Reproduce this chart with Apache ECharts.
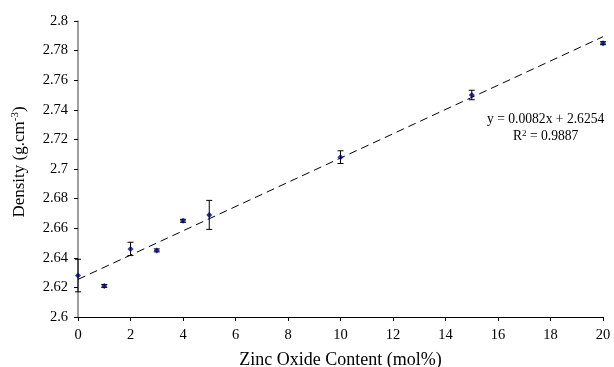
<!DOCTYPE html>
<html>
<head>
<meta charset="utf-8">
<script src="https://cdn.jsdelivr.net/npm/echarts@6/dist/echarts.min.js"></script>
<style>
  html, body { margin: 0; padding: 0; background: #fff; }
  #chart { width: 614px; height: 367px; }
</style>
</head>
<body>
<div id="chart"></div>
<script>
// ZnO content (mol%) vs density
const znoContent = [0, 1, 2, 3, 4, 5, 10, 15, 20]
const density = [2.628, 2.621, 2.646, 2.645, 2.665, 2.669, 2.708, 2.750, 2.785]
const densityErr = [0.011, 0.001, 0.0045, 0.001, 0.001, 0.0098, 0.0043, 0.0032, 0.001]

// linear fit endpoints (dashed trendline)
const trendX = [0, 20]
const trendY = [2.6254, 2.7894]

const xTicks = [0, 2, 4, 6, 8, 10, 12, 14, 16, 18, 20]
const yTicks = [2.6, 2.62, 2.64, 2.66, 2.68, 2.7, 2.72, 2.74, 2.76, 2.78, 2.8]

const serif = '"Liberation Serif", "DejaVu Serif", serif'
const chart = echarts.init(document.getElementById('chart'))

const points = znoContent.map((x, i) => [x, density[i]])
const errData = znoContent.map((x, i) => [x, density[i] - densityErr[i], density[i] + densityErr[i]])
const trendData = trendX.map((x, i) => [x, trendY[i]])

const option = {
  animation: false,
  backgroundColor: '#fff',
  grid: { left: 78, right: 11, top: 21, bottom: 50, containLabel: false, outerBoundsMode: 'none' },
  xAxis: {
    type: 'value',
    min: xTicks[0],
    max: xTicks[xTicks.length - 1],
    interval: 2,
    name: 'Zinc Oxide Content (mol%)',
    nameLocation: 'middle',
    nameGap: 34,
    nameTextStyle: { fontFamily: serif, fontSize: 18, color: '#000' },
    axisLine: { lineStyle: { color: '#000', width: 1 } },
    axisTick: { show: true, length: 4, lineStyle: { color: '#000' } },
    axisLabel: { fontFamily: serif, fontSize: 14.5, color: '#000', margin: 11 },
    splitLine: { show: false }
  },
  yAxis: {
    type: 'value',
    min: yTicks[0],
    max: yTicks[yTicks.length - 1],
    interval: 0.02,
    name: '{n|Density (g.cm}{s|-3}{n|)}',
    nameLocation: 'middle',
    nameRotate: 90,
    nameGap: 49,
    nameTextStyle: {
      padding: [0, 0, 0, 14],
      rich: {
        n: { fontFamily: serif, fontSize: 17, color: '#000' },
        s: { fontFamily: serif, fontSize: 11, color: '#000', verticalAlign: 'top', padding: [0, 0, 8, 0] }
      }
    },
    axisLine: { show: true, lineStyle: { color: '#808080', width: 1.5 } },
    axisTick: { show: true, length: 4, lineStyle: { color: '#000' } },
    axisLabel: {
      fontFamily: serif, fontSize: 14.5, color: '#000', margin: 10,
      formatter: v => String(parseFloat(v.toFixed(2)))
    },
    splitLine: { show: false }
  },
  series: [
    {
      type: 'line',
      data: trendData,
      symbol: 'none',
      silent: true,
      lineStyle: { color: '#000', width: 1, type: [8, 5] },
      z: 2
    },
    {
      type: 'custom',
      data: errData,
      z: 3,
      renderItem: (params, api) => {
        const x = api.value(0)
        const lo = api.coord([x, api.value(1)])
        const hi = api.coord([x, api.value(2)])
        const w = 3
        const style = { stroke: '#000', lineWidth: 1 }
        return {
          type: 'group',
          children: [
            { type: 'line', shape: { x1: lo[0], y1: lo[1], x2: hi[0], y2: hi[1] }, style },
            { type: 'line', shape: { x1: lo[0] - w, y1: lo[1], x2: lo[0] + w, y2: lo[1] }, style },
            { type: 'line', shape: { x1: hi[0] - w, y1: hi[1], x2: hi[0] + w, y2: hi[1] }, style }
          ]
        }
      }
    },
    {
      type: 'scatter',
      data: points,
      symbol: 'diamond',
      symbolSize: 6,
      itemStyle: { color: '#000080' },
      z: 4
    }
  ],
  graphic: [
    {
      type: 'text',
      left: 487,
      top: 112,
      style: {
        text: 'y = 0.0082x + 2.6254',
        fontFamily: serif, fontSize: 13.6, fill: '#000'
      }
    },
    {
      type: 'text',
      left: 513,
      top: 129,
      style: {
        text: '{n|R}{s|2}{n| = 0.9887}',
        rich: {
          n: { fontFamily: serif, fontSize: 13.6, fill: '#000' },
          s: { fontFamily: serif, fontSize: 9, fill: '#000', verticalAlign: 'top' }
        }
      }
    }
  ]
}

chart.setOption(option)
window.addEventListener('resize', () => chart.resize())
</script>
</body>
</html>
